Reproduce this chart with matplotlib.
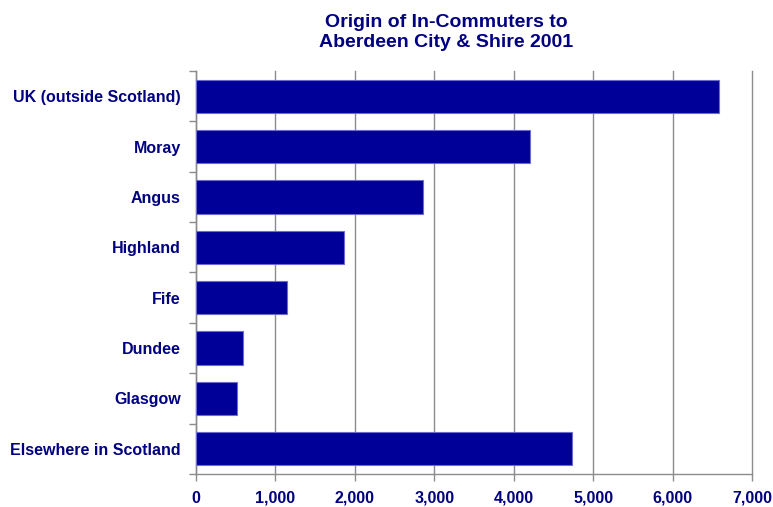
#Horizontal bar chart of where in-commuters to Aberdeen City & Shire came from in 2001
import numpy as np
import matplotlib.pyplot as plt

plt.rcParams['font.family'] = ['Liberation Sans', 'DejaVu Sans']

origins = ['UK (outside Scotland)', 'Moray', 'Angus', 'Highland', 'Fife',
           'Dundee', 'Glasgow', 'Elsewhere in Scotland']
commuters = [6580, 4210, 2860, 1860, 1150, 595, 515, 4740]
x_ticks = [0, 1000, 2000, 3000, 4000, 5000, 6000, 7000]

navy = '#000080'
bar_blue = '#000099'
grid_grey = '#8c8c8c'

fig = plt.figure(figsize=(7.73, 5.07), dpi=100)
ax = fig.add_axes([0.2536, 0.0651, 0.7192, 0.7949])

#first category at the top
pos = np.arange(len(origins))
ax.barh(pos, commuters, height=0.66, color=bar_blue, edgecolor='#6c6cd0',
        linewidth=0.8, zorder=3)
ax.set_ylim(len(origins) - 0.5, -0.5)
ax.set_xlim(0, 7000)

#vertical gridlines only
ax.set_xticks(x_ticks)
ax.set_xticklabels([f'{v:,}' for v in x_ticks])
ax.grid(axis='x', color=grid_grey, linewidth=1, zorder=0)
for gl in ax.get_xgridlines():
    gl.set_clip_on(False)

#category names in the middle, tick marks between the bars
ax.set_yticks(pos)
ax.set_yticklabels(origins)
ax.set_yticks(np.arange(len(origins) + 1) - 0.5, minor=True)
ax.tick_params(axis='y', which='major', length=0, pad=11)
ax.tick_params(axis='y', which='minor', length=5, color=grid_grey, width=1)
ax.tick_params(axis='x', length=5, color=grid_grey, width=1, pad=7)
for lab in ax.get_xticklabels() + ax.get_yticklabels():
    lab.set_fontweight('bold')
    lab.set_color(navy)
    lab.set_fontsize(11.5)

for side in ['top', 'right']:
    ax.spines[side].set_visible(False)
for side in ['left', 'bottom']:
    ax.spines[side].set_color(grid_grey)
    ax.spines[side].set_linewidth(1)

fig.text(0.577, 0.9, 'Origin of In-Commuters to\nAberdeen City & Shire 2001',
         ha='center', va='bottom', fontsize=14, fontweight='bold', color=navy,
         linespacing=1.2)

plt.savefig('out.png', dpi=100)
